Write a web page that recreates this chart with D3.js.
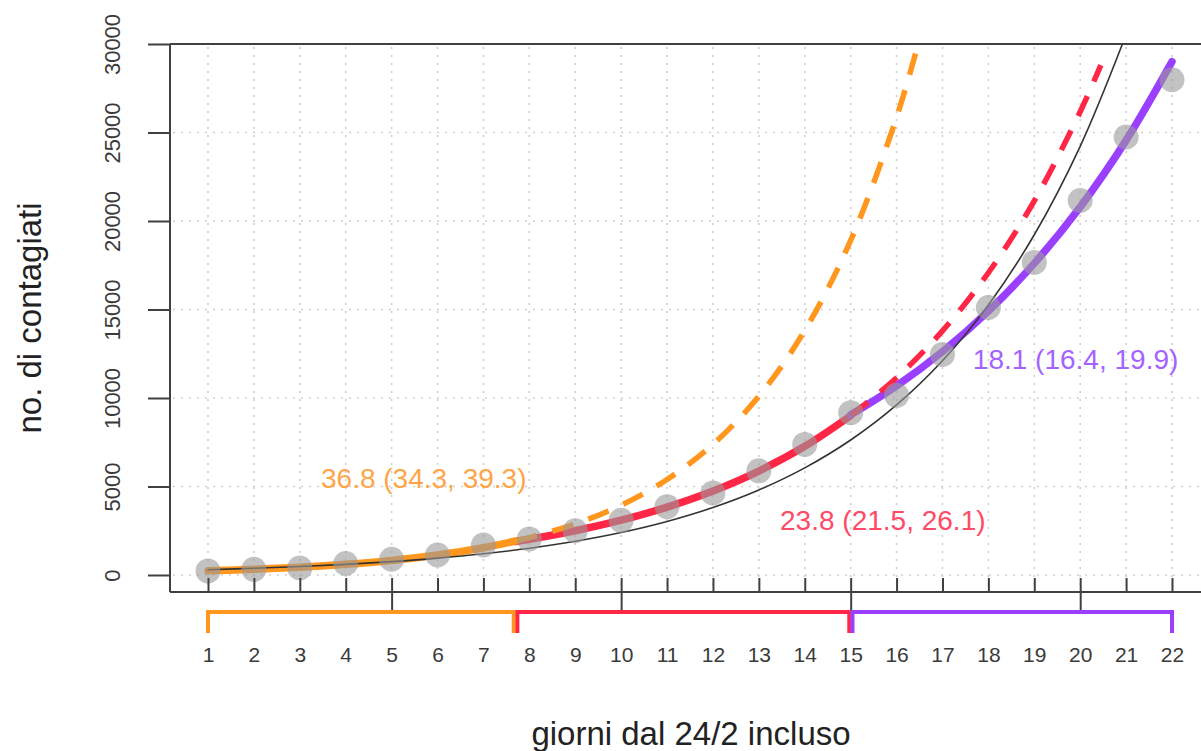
<!DOCTYPE html>
<html>
<head>
<meta charset="utf-8">
<script src="https://cdn.jsdelivr.net/npm/d3@7"></script>
<style>
  html, body { margin: 0; padding: 0; background: #fff; }
  svg { display: block; font-family: "Liberation Sans", Arial, Helvetica, sans-serif; }
</style>
</head>
<body>
<svg id="chart" width="1201" height="751"></svg>
<script>
// ---- data ----
const days = [1,2,3,4,5,6,7,8,9,10,11,12,13,14,15,16,17,18,19,20,21,22];
const cases = [229,322,400,650,888,1128,1694,2036,2502,3089,3858,4636,5883,7375,9172,10149,12462,15113,17660,21157,24747,27980];

const yTicks = [0,5000,10000,15000,20000,25000,30000];
const xMajorTicks = [5,10,15,20];

// orange fit (days 1 - 7.7) and its projection
const orangeFitDays = [1,2,3,4,5,6,7,7.7];
const orangeFitVals = [235,321,440,602,823,1126,1541,1919];
const orangeProjDays = [7.7,8,9,10,11,12,13,14,15,16,16.47];
const orangeProjVals = [1919,2108,2884,3945,5397,7383,10100,13817,18902,25858,30000];

// red fit (days 7.7 - 15) and its projection
const redFitDays = [7.7,8,9,10,11,12,13,14,15];
const redFitVals = [1894,2019,2500,3095,3831,4743,5872,7270,9000];
const redProjDays = [15,16,17,18,19,20,20.45];
const redProjVals = [9000,11142,13794,17077,21141,26172,28810];

// purple fit (days 15 - 22)
const purpleDays = [15,16,17,18,19,20,21,22];
const purpleVals = [9050,10688,12622,14908,17606,20792,24555,29000];

// black overall fit
const blackDays = [1,2,3,4,5,6,7,8,9,10,11,12,13,14,15,16,17,18,19,20,20.92];
const blackVals = [300,378,476,600,756,953,1200,1512,1906,2401,3026,3812,4804,6053,7627,9610,12108,15256,19223,24221,30000];

// period brackets
const bracketStarts = [1, 7.74, 15.04];
const bracketEnds = [7.66, 14.97, 22];
const periodColors = ["#FF961E", "#FF2646", "#9B3FFF"];

// annotations
const annoTexts = ["36.8 (34.3, 39.3)", "23.8 (21.5, 26.1)", "18.1 (16.4, 19.9)"];
const annoDays = [5.7, 15.7, 19.9];
const annoVals = [4900, 2520, 11650];
const annoColors = ["#FFA547", "#FF4A68", "#A463FF"];

// ---- drawing ----
const svg = d3.select("#chart");
const x = d3.scaleLinear().domain([1, 22]).range([208, 1172]);
const y = d3.scaleLinear().domain([0, 30000]).range([575, 44]);

const plotLeft = 170, plotTop = 44, plotBottom = 592, plotRight = 1215;

// grid
const grid = svg.append("g").attr("stroke", "#cfcfcf").attr("stroke-width", 1.6)
  .attr("stroke-dasharray", "2,6");
grid.selectAll("line.v").data(days).join("line")
  .attr("x1", d => x(d)).attr("x2", d => x(d))
  .attr("y1", plotTop + 3).attr("y2", plotBottom - 2);
grid.selectAll("line.h").data(yTicks.slice(0, -1)).join("line")
  .attr("x1", plotLeft + 3).attr("x2", plotRight)
  .attr("y1", d => y(d)).attr("y2", d => y(d));

// lines
const line = d3.line().x(d => x(d[0])).y(d => y(d[1])).curve(d3.curveCatmullRom);
const zip = (a, b) => a.map((d, i) => [d, b[i]]);

function drawPath(dataX, dataY, color, width, dash) {
  svg.append("path")
    .datum(zip(dataX, dataY))
    .attr("d", line)
    .attr("fill", "none")
    .attr("stroke", color)
    .attr("stroke-width", width)
    .attr("stroke-linecap", dash ? "butt" : "round")
    .attr("stroke-dasharray", dash || null);
}

drawPath(redFitDays, redFitVals, periodColors[1], 7.5);
drawPath(purpleDays, purpleVals, periodColors[2], 7.5);
drawPath(redProjDays, redProjVals, periodColors[1], 5.5, "22,16");
drawPath(orangeFitDays, orangeFitVals, periodColors[0], 7.5);
drawPath(orangeProjDays, orangeProjVals, periodColors[0], 5.5, "22,16");
drawPath(blackDays, blackVals, "#333", 1.6);

// points
svg.append("g").selectAll("circle").data(zip(days, cases)).join("circle")
  .attr("cx", d => x(d[0])).attr("cy", d => y(d[1])).attr("r", 12.5)
  .attr("fill", "#999").attr("fill-opacity", 0.6);

// white cover above plot (lines beyond top)
svg.append("rect").attr("x", 0).attr("y", 0).attr("width", 1201).attr("height", plotTop)
  .attr("fill", "#fff");

// borders
const axisColor = "#404040";
svg.append("line").attr("x1", plotLeft).attr("x2", plotLeft).attr("y1", plotTop).attr("y2", plotBottom)
  .attr("stroke", axisColor).attr("stroke-width", 2);
svg.append("line").attr("x1", plotLeft).attr("x2", plotRight).attr("y1", plotTop).attr("y2", plotTop)
  .attr("stroke", axisColor).attr("stroke-width", 2);

// y axis
const yAxis = svg.append("g").attr("transform", `translate(${plotLeft},0)`)
  .call(d3.axisLeft(y).tickValues(yTicks).tickSize(22).tickSizeOuter(0).tickFormat(d3.format("d")));
yAxis.select(".domain").remove();
yAxis.selectAll(".tick line").attr("stroke", axisColor).attr("stroke-width", 2);
yAxis.selectAll(".tick text")
  .attr("x", null).attr("dy", null)
  .attr("transform", "translate(-50,0) rotate(-90)")
  .attr("text-anchor", "middle")
  .attr("fill", "#3a3a3a")
  .style("font-size", "22px");

// x axis: minor inward ticks at every day
const xAxis = svg.append("g").attr("transform", `translate(0,${plotBottom})`)
  .call(d3.axisBottom(x).tickValues(days).tickSize(-14).tickSizeOuter(0).tickFormat(""));
xAxis.select(".domain").remove();
xAxis.selectAll(".tick line").attr("stroke", axisColor).attr("stroke-width", 2);
svg.append("line").attr("x1", plotLeft).attr("x2", plotRight).attr("y1", plotBottom).attr("y2", plotBottom)
  .attr("stroke", axisColor).attr("stroke-width", 2);

// x axis: major ticks crossing the axis
const xMajor = svg.append("g").attr("transform", `translate(0,${plotBottom})`)
  .call(d3.axisBottom(x).tickValues(xMajorTicks).tickSize(18).tickSizeOuter(0).tickFormat(""));
xMajor.select(".domain").remove();
xMajor.selectAll(".tick line").attr("stroke", axisColor).attr("stroke-width", 2);

// brackets
const bLine = d3.line().x(d => d[0]).y(d => d[1]);
bracketStarts.forEach((s, i) => {
  const e = bracketEnds[i];
  svg.append("path")
    .attr("d", bLine([[x(s), 633], [x(s), 612], [x(e), 612], [x(e), 633]]))
    .attr("fill", "none").attr("stroke", periodColors[i]).attr("stroke-width", 4);
});

// x tick labels
const xLabels = svg.append("g").attr("transform", `translate(0,647)`)
  .call(d3.axisBottom(x).tickValues(days).tickSize(0).tickPadding(0).tickFormat(d3.format("d")));
xLabels.select(".domain").remove();
xLabels.selectAll(".tick text").attr("dy", "0.71em").attr("fill", "#3a3a3a").style("font-size", "21px");

// annotations
annoTexts.forEach((t, i) => {
  svg.append("text").attr("x", x(annoDays[i])).attr("y", y(annoVals[i]))
    .attr("text-anchor", "middle").attr("fill", annoColors[i])
    .style("font-size", "28px").text(t);
});

// axis titles
svg.append("text").attr("x", 691).attr("y", 745).attr("text-anchor", "middle")
  .attr("fill", "#222").style("font-size", "33px").text("giorni dal 24/2 incluso");
svg.append("text").attr("transform", "translate(41,318) rotate(-90)").attr("text-anchor", "middle")
  .attr("fill", "#222").style("font-size", "33px").text("no. di contagiati");
</script>
</body>
</html>
